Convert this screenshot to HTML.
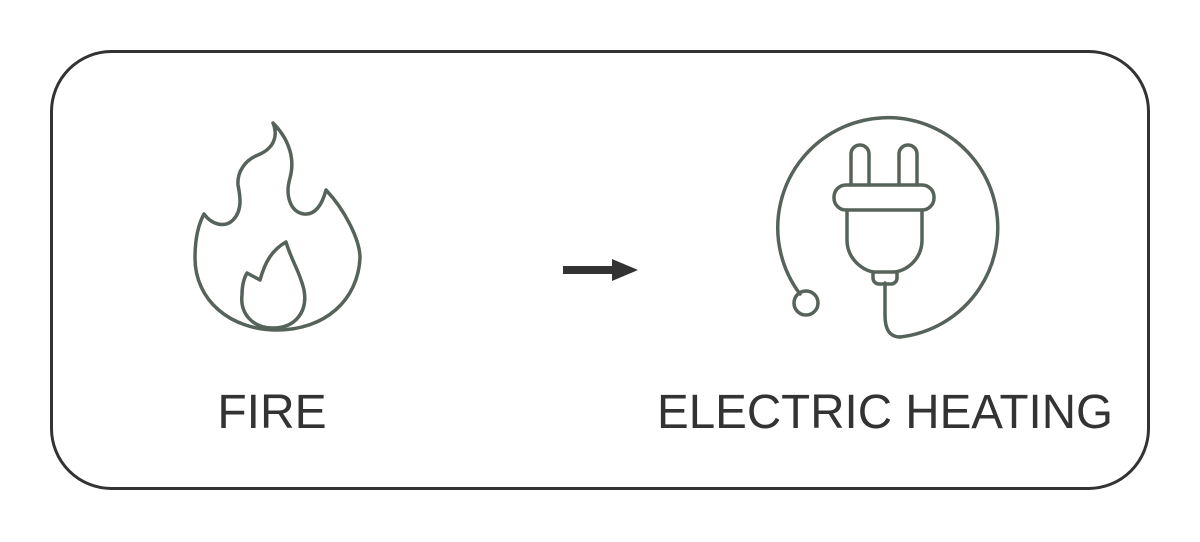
<!DOCTYPE html>
<html><head><meta charset="utf-8"><style>
html,body{margin:0;padding:0;background:#fff;}
svg{display:block}
</style></head><body>
<svg width="1200" height="542" viewBox="0 0 1200 542" xmlns="http://www.w3.org/2000/svg">
<rect x="51.5" y="51.5" width="1097" height="437" rx="60" fill="none" stroke="#333" stroke-width="3"/>
<g fill="none" stroke="#56635a" stroke-width="3.5" stroke-linejoin="round" stroke-linecap="round">
<!-- big flame -->
<path d="M273,123 C290,140 295,160 290,178 C285,195 290,212 304,214 C315,215 322,205 326,190 C345,210 360,240 360,258 C358,300 325,330 277,330 C230,330 195,300 195,258 C195,240 198,225 204,214 C212,225 225,228 233,220 C243,210 240,195 238,185 C237,172 245,160 258,155 C275,148 278,135 273,123 Z"/>
<!-- small flame -->
<path d="M286,242 C292,262 300,272 304,290 C308,312 295,328 273,328 C252,328 240,313 242,295 C242,285 244,278 247,273 L260,280 C265,262 272,250 286,242 Z"/>
<!-- plug circle arc -->
<path d="M800,294 A110,110 0 1 1 900,337"/>
<circle cx="806" cy="303" r="12"/>
<path d="M885,283 L885,315 C885,330 890,337 900,337"/>
<!-- prongs -->
<path d="M851,185 L851,154 A9,9 0 0 1 869,154 L869,185"/>
<path d="M899,185 L899,154 A9,9 0 0 1 917,154 L917,185"/>
<rect x="834" y="185" width="100" height="25" rx="12"/>
<path d="M847,210 L847,240 C847,260 865,272 875,272 L893,272 C905,272 922,260 922,240 L922,210"/>
<path d="M873,272 L873,278 A6,6 0 0 0 879,284 L891,284 A6,6 0 0 0 897,278 L897,272"/>
</g>
<!-- arrow -->
<line x1="563" y1="270" x2="616" y2="270" stroke="#333" stroke-width="8"/>
<polygon points="612,259 638,270 612,281" fill="#333"/>
<g font-family="'Liberation Sans',sans-serif" font-size="48" fill="#333">
<text x="272" y="428" text-anchor="middle">FIRE</text>
<text x="885" y="428" text-anchor="middle" textLength="456" lengthAdjust="spacingAndGlyphs">ELECTRIC HEATING</text>
</g>
</svg>
</body></html>
